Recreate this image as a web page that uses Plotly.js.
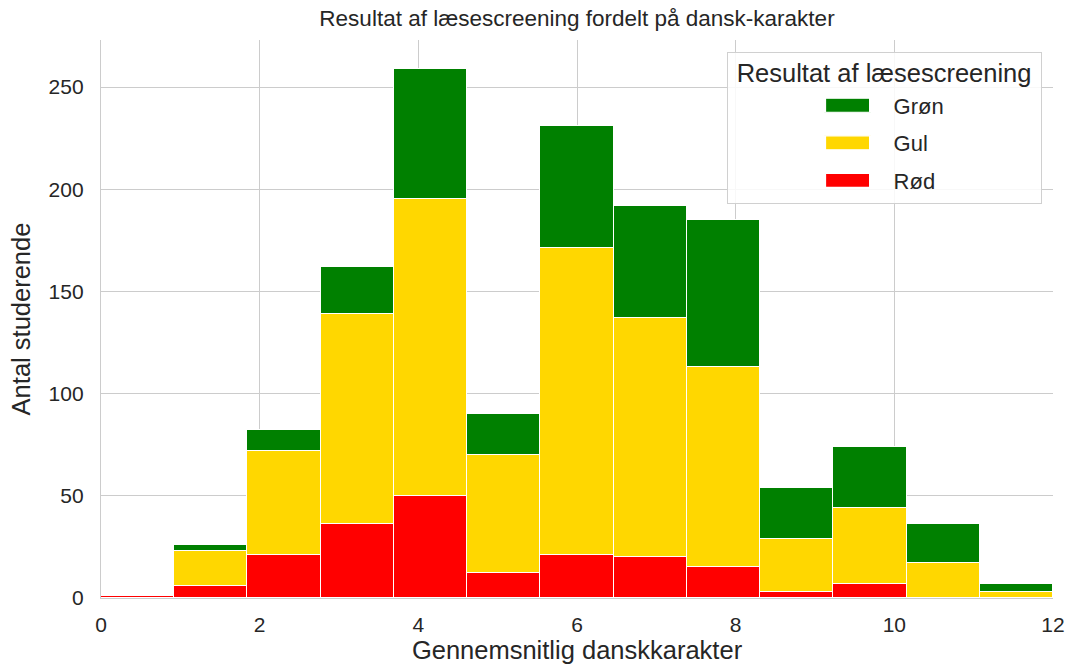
<!DOCTYPE html>
<html>
<head>
<meta charset="utf-8">
<script src="https://cdn.plot.ly/plotly-3.0.1.min.js"></script>
<style>
  html, body { margin: 0; padding: 0; background: #fff; }
  #chart { width: 1067px; height: 671px; }
  /* wide legend swatches, items centred under the legend title */
  #chart .legend .legendpoints path { transform: translate(120px, -2px) scale(3.9, 1.17); }
  #chart .legend .legendtext { transform: translate(126px, -2px); }
  #chart .legend .legendtitletext { transform: translate(0, -4px); }
</style>
</head>
<body>
<div id="chart"></div>
<script>
// Histogram bins: 13 equal bins from 0 to 12
const binStart = 0;
const binEnd = 12;
const nBins = 13;

// Counts per bin, stacked red -> yellow -> green
const countsRod = [1, 6, 21, 36, 50, 12, 21, 20, 15, 3, 7, 0, 0];
const countsGul = [0, 17, 51, 103, 145, 58, 150, 117, 98, 26, 37, 17, 3];
const countsGron = [0, 3, 10, 23, 64, 20, 60, 55, 72, 25, 30, 19, 4];

const seriesNames = ['Rød', 'Gul', 'Grøn'];
const seriesColors = ['#ff0000', '#ffd700', '#008000'];
const legendRanks = [3, 2, 1];

const xTicks = [0, 2, 4, 6, 8, 10, 12];
const yTicks = [0, 50, 100, 150, 200, 250];

const binWidth = (binEnd - binStart) / nBins;
const centers = countsRod.map((_, i) => binStart + binWidth * (i + 0.5));

const FONT = 'Liberation Sans, Arial, sans-serif';
const TEXT = '#262626';

const traces = [countsRod, countsGul, countsGron].map((vals, i) => ({
  type: 'bar',
  x: centers,
  y: vals,
  width: binWidth,
  name: seriesNames[i],
  legendgroup: seriesNames[i],
  legendrank: legendRanks[i],
  marker: { color: seriesColors[i], line: { color: '#ffffff', width: 1 } },
  hovertemplate: '%{y}<extra>' + seriesNames[i] + '</extra>',
}));

const layout = {
  width: 1067,
  height: 671,
  margin: { l: 101, r: 14, t: 40, b: 73 },
  paper_bgcolor: '#ffffff',
  plot_bgcolor: '#ffffff',
  barmode: 'stack',
  bargap: 0,
  font: { family: FONT, color: TEXT, size: 21 },
  title: {
    text: 'Resultat af læsescreening fordelt på dansk-karakter',
    font: { family: FONT, size: 22.5, color: TEXT },
    x: 0.5, xref: 'paper', xanchor: 'center',
    y: 0.973, yanchor: 'middle',
  },
  xaxis: {
    range: [binStart, binEnd],
    tickvals: xTicks,
    ticktext: xTicks.map(String),
    showgrid: true,
    gridcolor: '#cccccc',
    gridwidth: 1.3,
    zeroline: false,
    showline: true,
    linecolor: '#cccccc',
    linewidth: 1.3,
    ticks: '',
    ticklabelstandoff: 8,
    tickfont: { size: 21, color: TEXT },
    title: { text: 'Gennemsnitlig danskkarakter', font: { size: 25.5, color: TEXT }, standoff: 4 },
  },
  yaxis: {
    range: [0, 273],
    tickvals: yTicks,
    ticktext: yTicks.map(String),
    showgrid: true,
    gridcolor: '#cccccc',
    gridwidth: 1.3,
    zeroline: false,
    showline: true,
    linecolor: '#cccccc',
    linewidth: 1.3,
    ticks: '',
    ticklabelstandoff: 12,
    tickfont: { size: 21, color: TEXT },
    title: { text: 'Antal studerende', font: { size: 25.5, color: TEXT }, standoff: 10 },
  },
  legend: {
    x: 0.988, xanchor: 'right',
    y: 0.978, yanchor: 'top',
    traceorder: 'grouped',
    tracegroupgap: 6,
    bgcolor: 'rgba(255,255,255,0.85)',
    bordercolor: '#d0d0d0',
    borderwidth: 1,
    font: { size: 22, color: TEXT },
    title: { text: '\u00a0Resultat af læsescreening\u00a0', side: 'top', font: { size: 25.5, color: TEXT } },
  },
  showlegend: true,
};

Plotly.newPlot('chart', traces, layout, { displayModeBar: false, responsive: false });
</script>
</body>
</html>
